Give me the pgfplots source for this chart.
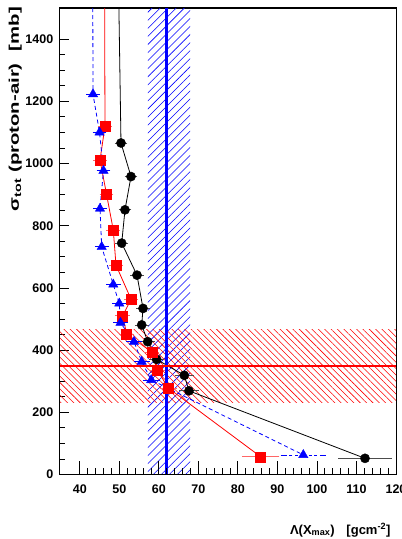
\documentclass[border=0pt]{standalone}
\usepackage{fontspec}
\setmainfont{Liberation Sans}
\usepackage{pgfplots}
\usepackage{pgfplotstable}
\pgfplotsset{compat=1.18}
\usetikzlibrary{patterns.meta}

% Lambda(Xmax) vs sigma_tot for three models; first row only extends the line above the frame
\pgfplotstableread{
x      y     ex
49.90  1500  0
50.43  1066  1.0
52.96  958   1.0
51.44  851   1.0
50.61  744   1.0
54.48  641   1.1
56.00  534   1.1
55.67  481   1.1
57.19  427   1.2
59.46  370   1.3
66.44  319   1.7
67.63  269   1.8
112.16 52    6.1
}\blackdata

\pgfplotstableread{
x      y     ex
46.30  1500  0
46.38  1120  1.1
45.12  1011  1.1
46.76  902   1.1
48.48  786   1.1
49.17  673   1.1
52.96  564   1.2
50.86  510   1.2
51.87  452   1.2
58.20  394   1.3
59.61  336   1.4
62.40  278   1.5
85.77  57    4.1
}\reddata

\pgfplotstableread{
x      y     ex
43.30  1500  0
43.35  1223  1.1
45.00  1100  1.1
46.00  977   1.1
45.12  855   1.1
45.55  732   1.1
48.48  611   1.2
50.00  550   1.2
50.30  488   1.2
53.72  427   1.3
55.67  363   1.4
58.07  304   1.5
96.55  63    5.1
}\bluedata

\definecolor{rootred}{RGB}{255,0,0}
\definecolor{rootblue}{RGB}{0,0,255}

\pgfplotsset{
  frame/.style={
    scale only axis, width=336pt, height=466.5pt,
    xmin=35, xmax=120, ymin=0, ymax=1500,
    axis line style={line width=1pt},
    tick align=inside, xtick pos=bottom, ytick pos=left,
    tick style={black, line width=0.8pt},
    /pgf/number format/assume math mode=true,
    /pgf/number format/1000 sep={},
    tick label style={font=\fontsize{12.5}{14}\selectfont\bfseries},
  },
}

\begin{document}
\begin{tikzpicture}
\begin{axis}[frame,
  xtick=\empty,
  ytick={0,200,...,1400}, minor y tick num=3,
  major tick length=9pt, minor tick length=5pt,
  yticklabel style={anchor=east, inner sep=0pt, xshift=-6.5pt},
]
  % measured Lambda band and central value
  \addplot[draw=none, pattern={Lines[angle=45, distance=5.7pt, line width=0.55pt]}, pattern color=rootblue]
    coordinates {(57.2,0) (67.9,0) (67.9,1500) (57.2,1500)} -- cycle;
  % cross-section band and central value
  \addplot[draw=none, pattern={Lines[angle=-45, distance=4.5pt, line width=0.55pt]}, pattern color=rootred]
    coordinates {(35,231) (120,231) (120,467) (35,467)} -- cycle;

  % model curves
  \addplot[black, line width=0.8pt] table[x=x, y=y] {\blackdata};
  \addplot[rootred, line width=0.8pt] table[x=x, y=y] {\reddata};
  \addplot[rootblue, line width=0.8pt, dash pattern=on 4pt off 3pt] table[x=x, y=y] {\bluedata};

  % points with horizontal errors
  \addplot[only marks, black, mark=*, mark size=4.6pt,
    skip coords between index={0}{1},
    error bars/.cd, x dir=both, x explicit,
    error bar style={black!70, line width=0.8pt},
    error mark options={black!70, mark size=2.5pt, line width=0.8pt}]
    table[x=x, y=y, x error=ex] {\blackdata};
  \addplot[only marks, rootred, mark=square*, mark size=5pt,
    skip coords between index={0}{1},
    error bars/.cd, x dir=both, x explicit,
    error bar style={rootred!60, line width=0.8pt},
    error mark options={rootred!60, mark size=2.5pt, line width=0.8pt}]
    table[x=x, y=y, x error=ex] {\reddata};
  \addplot[only marks, rootblue, mark=triangle*, mark size=5.4pt,
    skip coords between index={0}{1},
    error bars/.cd, x dir=both, x explicit,
    error bar style={rootblue, line width=0.8pt, dash pattern=on 3pt off 2.5pt},
    error mark options={rootblue, mark size=2.5pt, line width=0.8pt}]
    table[x=x, y=y, x error=ex] {\bluedata};

  \addplot[rootblue, line width=2.5pt] coordinates {(62,0) (62,1500)};
  \addplot[rootred, line width=2pt] coordinates {(35,350) (120,350)};
\end{axis}

% x axis ticks, longer than the y ticks
\begin{axis}[frame,
  ytick=\empty,
  xtick={40,50,...,120}, minor x tick num=4,
  major tick length=13pt, minor tick length=6.5pt,
  xticklabel style={anchor=north, inner sep=0pt, yshift=-10.5pt},
]
\end{axis}

\node[anchor=base east, font=\fontsize{13}{15}\selectfont\bfseries]
  at (334pt,-59.5pt) {Λ(X\textsubscript{max})\hspace{0.9em}[gcm\textsuperscript{-2}]};
\node[anchor=base east, rotate=90, xscale=1.45, font=\fontsize{14}{16}\selectfont\bfseries]
  at (-41pt,472.5pt) {σ\textsubscript{tot} (proton-air)\hspace{0.6em}[mb]};

\pgfresetboundingbox
\path[use as bounding box] (-60pt,-64.5pt) rectangle (342pt,474.5pt);
\end{tikzpicture}
\end{document}
